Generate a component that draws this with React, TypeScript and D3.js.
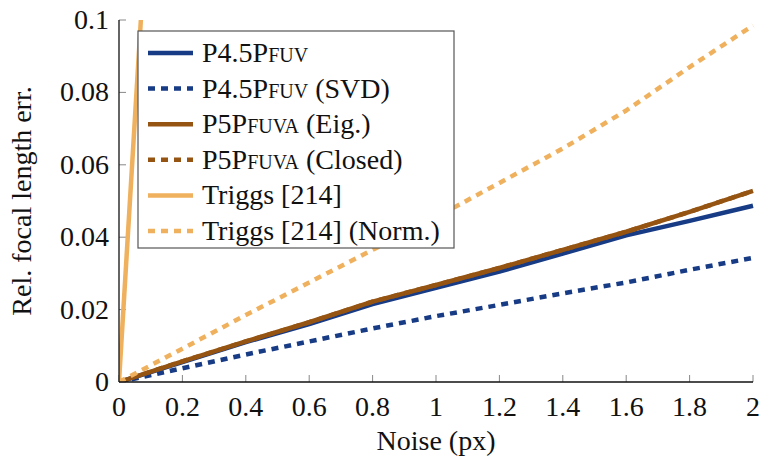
import React from "react";
import * as d3 from "d3";

const noise = [0, 0.2, 0.4, 0.6, 0.8, 1.0, 1.2, 1.4, 1.6, 1.8, 2.0];
const p45 = [0, 0.0055, 0.011, 0.016, 0.0215, 0.026, 0.0305, 0.0355, 0.0405, 0.0445, 0.0487];
const p45svd = [0, 0.0038, 0.0076, 0.0112, 0.0148, 0.0182, 0.0213, 0.0245, 0.0275, 0.031, 0.0343];
const p5eig = [0, 0.0057, 0.0112, 0.0165, 0.0222, 0.0268, 0.0315, 0.0365, 0.0415, 0.047, 0.0528];
const p5closed = [0, 0.0057, 0.0112, 0.0165, 0.0222, 0.0268, 0.0315, 0.0365, 0.0415, 0.047, 0.0528];
const triggs = [0, 0.29, 0.58, 0.86, 1.15, 1.44, 1.72, 2.0, 2.3, 2.6, 2.9];
const triggsNorm = [0, 0.0092, 0.0185, 0.0275, 0.0365, 0.0455, 0.055, 0.0645, 0.075, 0.087, 0.0985];

const xTicks = [0, 0.2, 0.4, 0.6, 0.8, 1, 1.2, 1.4, 1.6, 1.8, 2];
const yTicks = [0, 0.02, 0.04, 0.06, 0.08, 0.1];

const BLUE = "#173b85";
const BROWN = "#955412";
const ORANGE = "#efb15d";

type Series = { main: string; sc?: string; rest?: string; values: number[]; color: string; dash?: string };
const series: Series[] = [
  { main: "P4.5P", sc: "FUV", rest: "", values: p45, color: BLUE },
  { main: "P4.5P", sc: "FUV", rest: " (SVD)", values: p45svd, color: BLUE, dash: "7 6" },
  { main: "P5P", sc: "FUVA", rest: " (Eig.)", values: p5eig, color: BROWN },
  { main: "P5P", sc: "FUVA", rest: " (Closed)", values: p5closed, color: BROWN, dash: "7 6" },
  { main: "Triggs [214]", values: triggs, color: ORANGE },
  { main: "Triggs [214] (Norm.)", values: triggsNorm, color: ORANGE, dash: "7 6" },
];

const FONT = "Liberation Serif";
const FS = 28;

export default function App() {
  const W = 762, H = 460;
  const x0 = 119, x1 = 753, y0 = 382, y1 = 20;
  const x = d3.scaleLinear().domain([0, 2]).range([x0, x1]);
  const y = d3.scaleLinear().domain([0, 0.1]).range([y0, y1]);
  const line = d3.line<number>().x((_, i) => x(noise[i])).y((v) => y(v));

  const lx = 138, ly = 31, lw = 316, lh = 217;
  const rowH = 35.6;
  const ts = { fontFamily: FONT };
  return (
    <svg width={W} height={H} style={{ position: "absolute", left: 0, top: 0, fontFamily: FONT }}>
      <defs>
        <clipPath id="plot">
          <rect x={x0} y={y1} width={x1 - x0 + 3} height={y0 - y1} />
        </clipPath>
      </defs>
      {xTicks.map((t) => (
        <g key={"xt" + t}>
          <line x1={x(t)} x2={x(t)} y1={y0} y2={y0 - 7} stroke="#888" strokeWidth={1} />
          <text x={x(t)} y={y0 + 34} textAnchor="middle" fontSize={FS} fill="#111" style={ts}>{String(t)}</text>
        </g>
      ))}
      {yTicks.map((t) => (
        <g key={"yt" + t}>
          <line x1={x0} x2={x0 + 7} y1={y(t)} y2={y(t)} stroke="#888" strokeWidth={1} />
          <text x={x0 - 10} y={y(t) + 9} textAnchor="end" fontSize={FS} fill="#111" style={ts}>{String(t)}</text>
        </g>
      ))}
      <g clipPath="url(#plot)">
        {series.map((s, i) => (
          <path key={i} d={line(s.values) || ""} fill="none" stroke={s.color} strokeWidth={4.5}
            strokeDasharray={s.dash} strokeLinejoin="round" />
        ))}
      </g>
      <line x1={x0} x2={x0} y1={y1} y2={y0} stroke="#111" strokeWidth={1.3} />
      <line x1={x0} x2={x1} y1={y0} y2={y0} stroke="#111" strokeWidth={1.3} />
      <rect x={lx} y={ly} width={lw} height={lh} fill="white" stroke="#555" strokeWidth={1.2} />
      {series.map((s, i) => {
        const cy = ly + 22 + i * rowH;
        return (
          <g key={"lg" + i}>
            <line x1={148} x2={193} y1={cy} y2={cy} stroke={s.color} strokeWidth={4.5} strokeDasharray={s.dash} />
            <text x={202} y={cy + 9} fontSize={FS} fill="#111" style={ts}>
              {s.main}
              {s.sc ? <tspan fontSize={20}>{s.sc}</tspan> : null}
              {s.rest ? <tspan>{s.rest}</tspan> : null}
            </text>
          </g>
        );
      })}
      <text x={(x0 + x1) / 2} y={450} textAnchor="middle" fontSize={FS} fill="#111" style={ts}>Noise (px)</text>
      <text transform={`translate(31, ${(y0 + y1) / 2}) rotate(-90)`} textAnchor="middle" fontSize={FS} fill="#111" style={ts}>
        Rel. focal length err.
      </text>
    </svg>
  );
}
